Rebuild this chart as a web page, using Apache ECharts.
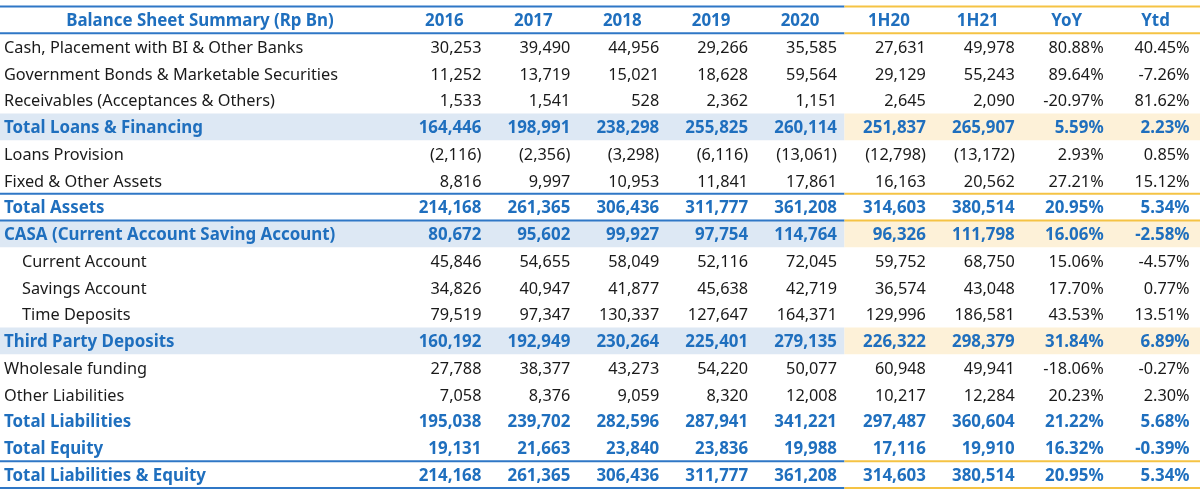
<!DOCTYPE html>
<html><head><meta charset="utf-8">
<script src="https://cdn.jsdelivr.net/npm/echarts@6/dist/echarts.min.js"></script>
<style>html,body{margin:0;padding:0;background:#fff}#c{width:1200px;height:497px}</style>
</head><body><div id="c"></div>
<script>
const title = 'Balance Sheet Summary (Rp Bn)';
const columns = ['2016','2017','2018','2019','2020','1H20','1H21','YoY','Ytd'];
const rowLabels = [
  'Cash, Placement with BI & Other Banks',
  'Government Bonds & Marketable Securities',
  'Receivables (Acceptances & Others)',
  'Total Loans & Financing',
  'Loans Provision',
  'Fixed & Other Assets',
  'Total Assets',
  'CASA (Current Account Saving Account)',
  'Current Account',
  'Savings Account',
  'Time Deposits',
  'Third Party Deposits',
  'Wholesale funding',
  'Other Liabilities',
  'Total Liabilities',
  'Total Equity',
  'Total Liabilities & Equity'
];
// amounts: 2016, 2017, 2018, 2019, 2020, 1H20, 1H21 ; then YoY %, Ytd %
const cash        = [30253, 39490, 44956, 29266, 35585, 27631, 49978, 80.88, 40.45];
const govBonds    = [11252, 13719, 15021, 18628, 59564, 29129, 55243, 89.64, -7.26];
const receivables = [1533, 1541, 528, 2362, 1151, 2645, 2090, -20.97, 81.62];
const totalLoans  = [164446, 198991, 238298, 255825, 260114, 251837, 265907, 5.59, 2.23];
const loansProv   = [-2116, -2356, -3298, -6116, -13061, -12798, -13172, 2.93, 0.85];
const fixedAssets = [8816, 9997, 10953, 11841, 17861, 16163, 20562, 27.21, 15.12];
const totalAssets = [214168, 261365, 306436, 311777, 361208, 314603, 380514, 20.95, 5.34];
const casa        = [80672, 95602, 99927, 97754, 114764, 96326, 111798, 16.06, -2.58];
const currentAcc  = [45846, 54655, 58049, 52116, 72045, 59752, 68750, 15.06, -4.57];
const savingsAcc  = [34826, 40947, 41877, 45638, 42719, 36574, 43048, 17.70, 0.77];
const timeDep     = [79519, 97347, 130337, 127647, 164371, 129996, 186581, 43.53, 13.51];
const thirdParty  = [160192, 192949, 230264, 225401, 279135, 226322, 298379, 31.84, 6.89];
const wholesale   = [27788, 38377, 43273, 54220, 50077, 60948, 49941, -18.06, -0.27];
const otherLiab   = [7058, 8376, 9059, 8320, 12008, 10217, 12284, 20.23, 2.30];
const totalLiab   = [195038, 239702, 282596, 287941, 341221, 297487, 360604, 21.22, 5.68];
const totalEquity = [19131, 21663, 23840, 23836, 19988, 17116, 19910, 16.32, -0.39];
const totalLiabEq = [214168, 261365, 306436, 311777, 361208, 314603, 380514, 20.95, 5.34];
const rowValues = [cash, govBonds, receivables, totalLoans, loansProv, fixedAssets, totalAssets,
  casa, currentAcc, savingsAcc, timeDep, thirdParty, wholesale, otherLiab, totalLiab, totalEquity, totalLiabEq];
const boldRows = [3, 6, 7, 11, 14, 15, 16];
const shadedRows = [3, 7, 11];
const indentRows = [8, 9, 10];
const ruledRows = [6, 16];
const nAmountCols = 7;

// ---- styling ----
const BLUE = '#1f6fbe', INK = '#1a1a1a';
const FONT = '"Noto Sans", "Open Sans", sans-serif';
const FS = 16.3, FS_BOLD = 16.9;
const DY = 1.5;
const splitX = 5;            // boundary between annual and half-year part
const xMin = -4.5, xMax = 9; // label column spans xMin..0
const rowCount = rowLabels.length + 1;

function fmtAmount(v) {
  const s = Math.abs(v).toLocaleString('en-US');
  return v < 0 ? '(' + s + ')' : s;
}
function fmtPct(v) { return v.toFixed(2) + '%'; }

const cells = [];
cells.push({ v: [(xMin) / 2, 0.5], text: title, align: 'center', bold: true, color: BLUE, dx: 0 });
columns.forEach((c, k) => cells.push({ v: [k + 0.5, 0.5], text: c, align: 'center', bold: true, color: BLUE, dx: 0 }));
rowLabels.forEach((lab, i) => {
  const r = i + 1;
  const bold = boldRows.includes(i);
  const color = bold ? BLUE : INK;
  cells.push({ v: [xMin, r + 0.5], text: lab, align: 'left', bold, color, dx: indentRows.includes(i) ? 22 : 4 });
  rowValues[i].forEach((val, k) => {
    const txt = k < nAmountCols ? fmtAmount(val) : fmtPct(val);
    cells.push({ v: [k + 0.5, r + 0.5], text: txt, align: 'right', bold, color, dx: k === 8 ? 34 : 37 });
  });
});

const bands = [];
shadedRows.forEach(i => {
  bands.push({ v: [xMin, i + 1, splitX, i + 2], kind: 'blue' });
  bands.push({ v: [splitX, i + 1, xMax, i + 2], kind: 'yellow' });
});
const ruleYs = [0, 1];
ruledRows.forEach(i => { ruleYs.push(i + 1, i + 2); });
const rules = [];
ruleYs.forEach(y => {
  rules.push({ v: [xMin, y, splitX, y], kind: 'blue' });
  rules.push({ v: [splitX, y, xMax, y], kind: 'yellow' });
});

const bandColors = { blue: '#dde8f4', yellow: '#fdf1d8' };
const ruleColors = { blue: '#2f77c6', yellow: '#f5c344' };

const chart = echarts.init(document.getElementById('c'), null, { renderer: 'canvas' });
chart.setOption({
  animation: false,
  grid: { left: 0, right: 0, top: 6.5, bottom: 9 },
  xAxis: { type: 'value', min: xMin, max: xMax, show: false },
  yAxis: { type: 'value', min: 0, max: rowCount, inverse: true, show: false },
  series: [
    {
      type: 'custom', clip: false, z: 1,
      data: bands.map(b => b.v),
      renderItem(params, api) {
        const b = bands[params.dataIndex];
        const p0 = api.coord([api.value(0), api.value(1)]);
        const p1 = api.coord([api.value(2), api.value(3)]);
        return { type: 'rect', shape: { x: p0[0], y: p0[1], width: p1[0] - p0[0], height: p1[1] - p0[1] },
          style: { fill: bandColors[b.kind] } };
      }
    },
    {
      type: 'custom', clip: false, z: 3,
      data: rules.map(r => r.v),
      renderItem(params, api) {
        const r = rules[params.dataIndex];
        const p0 = api.coord([api.value(0), api.value(1)]);
        const p1 = api.coord([api.value(2), api.value(3)]);
        return { type: 'line', shape: { x1: p0[0], y1: p0[1], x2: p1[0], y2: p1[1] },
          style: { stroke: ruleColors[r.kind], lineWidth: 2 } };
      }
    },
    {
      type: 'custom', clip: false, z: 5,
      data: cells.map(c => c.v),
      renderItem(params, api) {
        const c = cells[params.dataIndex];
        const p = api.coord([api.value(0), api.value(1)]);
        return { type: 'text', x: p[0] + c.dx, y: p[1] + DY,
          style: { text: c.text, align: c.align, verticalAlign: 'middle', fontFamily: FONT,
            fontSize: c.bold ? FS_BOLD : FS, fontWeight: c.bold ? 'bold' : 'normal', fill: c.color } };
      }
    }
  ]
});
</script></body></html>
